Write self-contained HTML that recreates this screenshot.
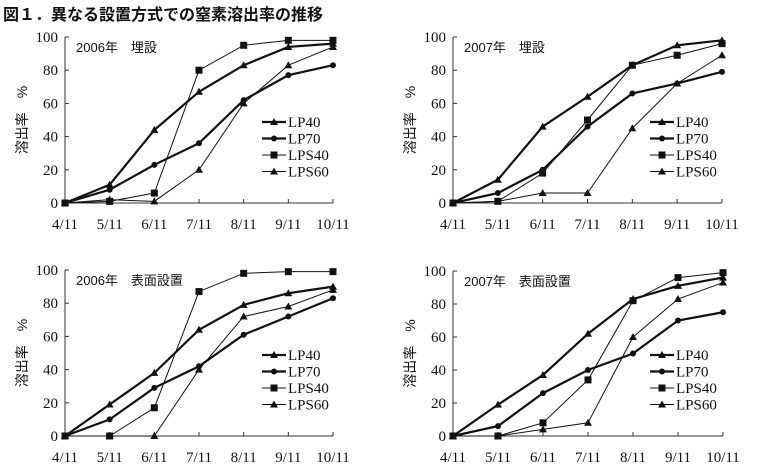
<!DOCTYPE html>
<html><head><meta charset="utf-8"><style>
body{margin:0;background:#fff;width:757px;height:473px;overflow:hidden}
svg{display:block}
text{font-family:"Liberation Serif","Noto Serif CJK SC",serif;fill:#111}
.j{font-family:"Liberation Sans","Noto Sans CJK JP",sans-serif}
</style></head><body>
<svg id="s" width="757" height="473" xmlns="http://www.w3.org/2000/svg">
<text x="3" y="20" class="j" font-size="16" font-weight="bold">図１．異なる設置方式での窒素溶出率の推移</text>
</svg>
<script>
const S=document.getElementById('s');let h='';
const P=[
 {x0:65,x1:333,y0:203,y1:37,lab:'2006年　埋設',d:[[0,11,44,67,83,94,96],[0,8,23,36,62,77,83],[0,1,6,80,95,98,98],[0,2,1,20,60,83,94]]},
 {x0:453,x1:722,y0:203,y1:37,lab:'2007年　埋設',d:[[0,14,46,64,83,95,98],[0,6,20,46,66,72,79],[0,1,18,50,83,89,96],[0,1,6,6,45,72,89]]},
 {x0:65,x1:333,y0:436,y1:270,lab:'2006年　表面設置',d:[[0,19,38,64,79,86,90],[0,10,29,42,61,72,83],[0,0,17,87,98,99,99],[0,0,0,40,72,78,88]]},
 {x0:453,x1:723,y0:436,y1:271,lab:'2007年　表面設置',d:[[0,19,37,62,83,91,96],[0,6,26,40,50,70,75],[0,0,8,34,82,96,99],[0,0,4,8,60,83,93]]}
];
const names=['LP40','LP70','LPS40','LPS60'],mk=['t','c','s','t'],sw=[2.2,2.2,1,1];
function marker(t,x,y){if(t=='t')return `<polygon points="${x},${y-4} ${x-4},${y+3} ${x+4},${y+3}" fill="#111"/>`;
 if(t=='c')return `<circle cx="${x}" cy="${y}" r="3" fill="#111"/>`;return `<rect x="${x-3.5}" y="${y-3.5}" width="7" height="7" fill="#111"/>`;}
P.forEach(p=>{
 const X=i=>p.x0+(p.x1-p.x0)*i/6,Y=v=>p.y0+(p.y1-p.y0)*v/100;
 h+=`<line x1="${p.x0}" y1="${p.y1}" x2="${p.x0}" y2="${p.y0}" stroke="#333" stroke-width="1"/>`;
 h+=`<line x1="${p.x0}" y1="${p.y0}" x2="${p.x1}" y2="${p.y0}" stroke="#333" stroke-width="1"/>`;
 for(let v=0;v<=100;v+=20){h+=`<line x1="${p.x0}" x2="${p.x0+4}" y1="${Y(v)}" y2="${Y(v)}" stroke="#333"/><text x="${p.x0-7}" y="${Y(v)+5}" font-size="15" text-anchor="end">${v}</text>`;}
 const ms=['4/11','5/11','6/11','7/11','8/11','9/11','10/11'];
 ms.forEach((m,i)=>{h+=`<line x1="${X(i)}" x2="${X(i)}" y1="${p.y0}" y2="${p.y0-4}" stroke="#333"/><text x="${X(i)}" y="${p.y0+26}" font-size="15" text-anchor="middle">${m}</text>`;});
 h+=`<text x="${p.x0+11}" y="${p.y1+15}" class="j" font-size="13">${p.lab}</text>`;
 const cy=(p.y0+p.y1)/2;
 h+=`<text transform="translate(${p.x0-38},${cy}) rotate(-90)" class="j" font-size="14" text-anchor="middle">溶出率　%</text>`;
 p.d.forEach((d,k)=>{
  h+=`<polyline fill="none" stroke="#111" stroke-width="${sw[k]}" points="${d.map((v,i)=>X(i)+','+Y(v)).join(' ')}"/>`;
  d.forEach((v,i)=>h+=marker(mk[k],X(i),Y(v)));
  const ly=p.y0-81+k*16.5,lx=p.x0+197;
  h+=`<line x1="${lx}" x2="${lx+24}" y1="${ly}" y2="${ly}" stroke="#111" stroke-width="${sw[k]}"/>`+marker(mk[k],lx+12,ly);
  h+=`<text x="${lx+26}" y="${ly+5}" font-size="15">${names[k]}</text>`;
 });
});
S.innerHTML+=h;
</script>
</body></html>
